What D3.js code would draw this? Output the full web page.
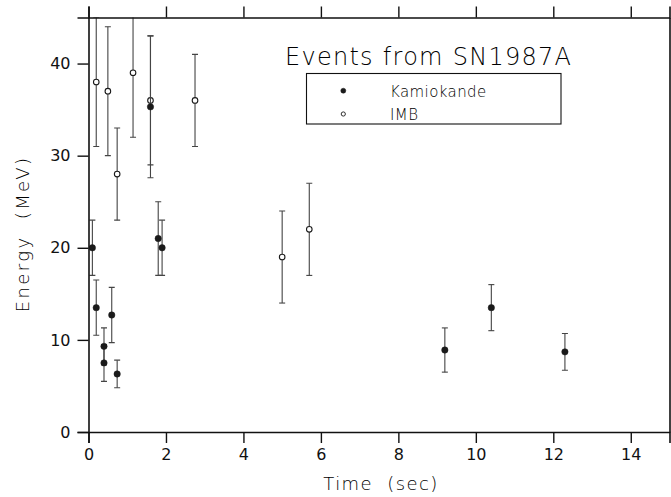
<!DOCTYPE html>
<html>
<head>
<meta charset="utf-8">
<script src="https://cdn.jsdelivr.net/npm/d3@7"></script>
<style>
    body { margin: 0; padding: 0; background: #fff; }
    svg { display: block; }
</style>
</head>
<body>
<script>

// Kamiokande events (filled dots)
var kamTime = [0.1, 0.2, 0.4, 0.4, 0.6, 0.74, 1.6, 1.8, 1.9, 9.2, 10.4, 12.3]
var kamEnergy = [20, 13.5, 9.3, 7.5, 12.7, 6.3, 35.3, 21, 20, 8.9, 13.5, 8.7]
var kamError = [3, 3, 2, 2, 3, 1.5, 7.7, 4, 3, 2.4, 2.5, 2]

// IMB events (open dots)
var imbTime = [0.2, 0.5, 0.74, 1.15, 1.6, 2.75, 5.0, 5.7]
var imbEnergy = [38, 37, 28, 39, 36, 36, 19, 22]
var imbError = [7, 7, 5, 7, 7, 5, 5, 5]

var xTicks = [0, 2, 4, 6, 8, 10, 12, 14]
var yTicks = [0, 10, 20, 30, 40]

var seriesLabels = ['Kamiokande', 'IMB']
var title = 'Events from SN1987A'
var xLabel = 'Time  (sec)'
var yLabel = 'Energy  (MeV)'

var width = 671
var height = 497
var margin = { top: 17.5, right: 1.5, bottom: 65, left: 88.5 }

var svg = d3.select('body')
            .append('svg')
                .attr('width', width)
                .attr('height', height)

var xscale = d3.scaleLinear().domain([0, 15]).range([margin.left, width - margin.right])
var yscale = d3.scaleLinear().domain([0, 45]).range([height - margin.bottom, margin.top])

function drawAxes() {
    var x_axis = d3.axisBottom().scale(xscale).tickValues(xTicks).tickSize(11).tickPadding(6).tickFormat(d3.format('d'))
    var x_top = d3.axisTop().scale(xscale).tickValues(xTicks).tickSize(11).tickFormat('')
    var y_axis = d3.axisLeft().scale(yscale).tickValues(yTicks).tickSize(11).tickPadding(7).tickFormat(d3.format('d'))
    var y_right = d3.axisRight().scale(yscale).tickValues([]).tickSize(0)

    var axes = [
        [x_axis, 'translate(0,' + yscale(0) + ')'],
        [x_top, 'translate(0,' + yscale(45) + ')'],
        [y_axis, 'translate(' + xscale(0) + ',0)'],
        [y_right, 'translate(' + xscale(15) + ',0)']
    ]
    axes.forEach(function(a) {
        var g = svg.append('g').attr('transform', a[1]).call(a[0])
        g.select('.domain').attr('stroke', '#111').attr('stroke-width', 1.6)
        g.selectAll('.tick line').attr('stroke', '#111').attr('stroke-width', 1.4)
        g.selectAll('text')
            .attr('fill', '#111')
            .style('font-family', 'DejaVu Sans')
            .style('font-size', '16px')
    })

    svg.append('text')
        .attr('x', 381)
        .attr('y', 490)
        .attr('text-anchor', 'middle')
        .style('white-space', 'pre')
        .style('font-family', 'DejaVu Sans')
        .style('font-size', '18px')
        .style('font-weight', 200)
        .style('letter-spacing', '1.4px')
        .attr('fill', '#000')
        .text(xLabel)

    svg.append('text')
        .attr('transform', 'translate(29,234) rotate(-90)')
        .attr('text-anchor', 'middle')
        .style('white-space', 'pre')
        .style('font-family', 'DejaVu Sans')
        .style('font-size', '18px')
        .style('font-weight', 200)
        .style('letter-spacing', '2.4px')
        .attr('fill', '#000')
        .text(yLabel)
}

function drawSeries(times, energies, errors, filled) {
    var g = svg.append('g').attr('clip-path', 'url(#plot-clip)')
    var capHalf = 3

    times.forEach(function(t, i) {
        var x = xscale(t)
        var top = yscale(energies[i] + errors[i])
        var bottom = yscale(energies[i] - errors[i])
        g.append('line')
            .attr('x1', x).attr('x2', x)
            .attr('y1', top).attr('y2', bottom)
            .attr('stroke', '#444')
            .attr('stroke-width', 1.1)
        ;[top, bottom].forEach(function(y) {
            g.append('line')
                .attr('x1', x - capHalf).attr('x2', x + capHalf)
                .attr('y1', y).attr('y2', y)
                .attr('stroke', '#444')
                .attr('stroke-width', 1.1)
        })
    })

    g.selectAll('circle.pt')
        .data(times)
        .enter()
            .append('circle')
                .attr('cx', d => xscale(d))
                .attr('cy', (d, i) => yscale(energies[i]))
                .attr('r', filled ? 3.2 : 2.8)
                .attr('fill', filled ? '#1a1a1a' : '#fff')
                .attr('stroke', '#1a1a1a')
                .attr('stroke-width', filled ? 0.5 : 1.1)
}

function drawChart() {
    svg.append('clipPath')
        .attr('id', 'plot-clip')
        .append('rect')
            .attr('x', xscale(0))
            .attr('y', yscale(45))
            .attr('width', xscale(15) - xscale(0))
            .attr('height', yscale(0) - yscale(45))

    drawSeries(imbTime, imbEnergy, imbError, false)
    drawSeries(kamTime, kamEnergy, kamError, true)
}

function drawLegend() {
    svg.append('text')
        .attr('x', 285)
        .attr('y', 65)
        .attr('textLength', 286)
        .attr('lengthAdjust', 'spacing')
        .style('font-family', 'DejaVu Sans')
        .style('font-size', '24px')
        .style('font-weight', 200)
        .attr('fill', '#000')
        .text(title)

    svg.append('rect')
        .attr('x', 306.5)
        .attr('y', 73.5)
        .attr('width', 254.5)
        .attr('height', 50.5)
        .attr('fill', 'none')
        .attr('stroke', '#111')
        .attr('stroke-width', 1.1)

    var rowY = [90.7, 114]
    seriesLabels.forEach(function(label, i) {
        svg.append('circle')
            .attr('cx', 343.3)
            .attr('cy', rowY[i])
            .attr('r', i == 0 ? 2.5 : 2.1)
            .attr('fill', i == 0 ? '#1a1a1a' : '#fff')
            .attr('stroke', '#1a1a1a')
            .attr('stroke-width', i == 0 ? 0.5 : 0.9)

        svg.append('text')
            .attr('x', 390)
            .attr('y', rowY[i] + 6)
            .style('font-family', 'DejaVu Sans')
            .style('font-size', '15px')
            .style('font-weight', 200)
            .style('letter-spacing', '0.4px')
            .attr('fill', '#000')
            .text(label)
    })
}

drawChart()
drawAxes()
drawLegend()

</script>
</body>
</html>
